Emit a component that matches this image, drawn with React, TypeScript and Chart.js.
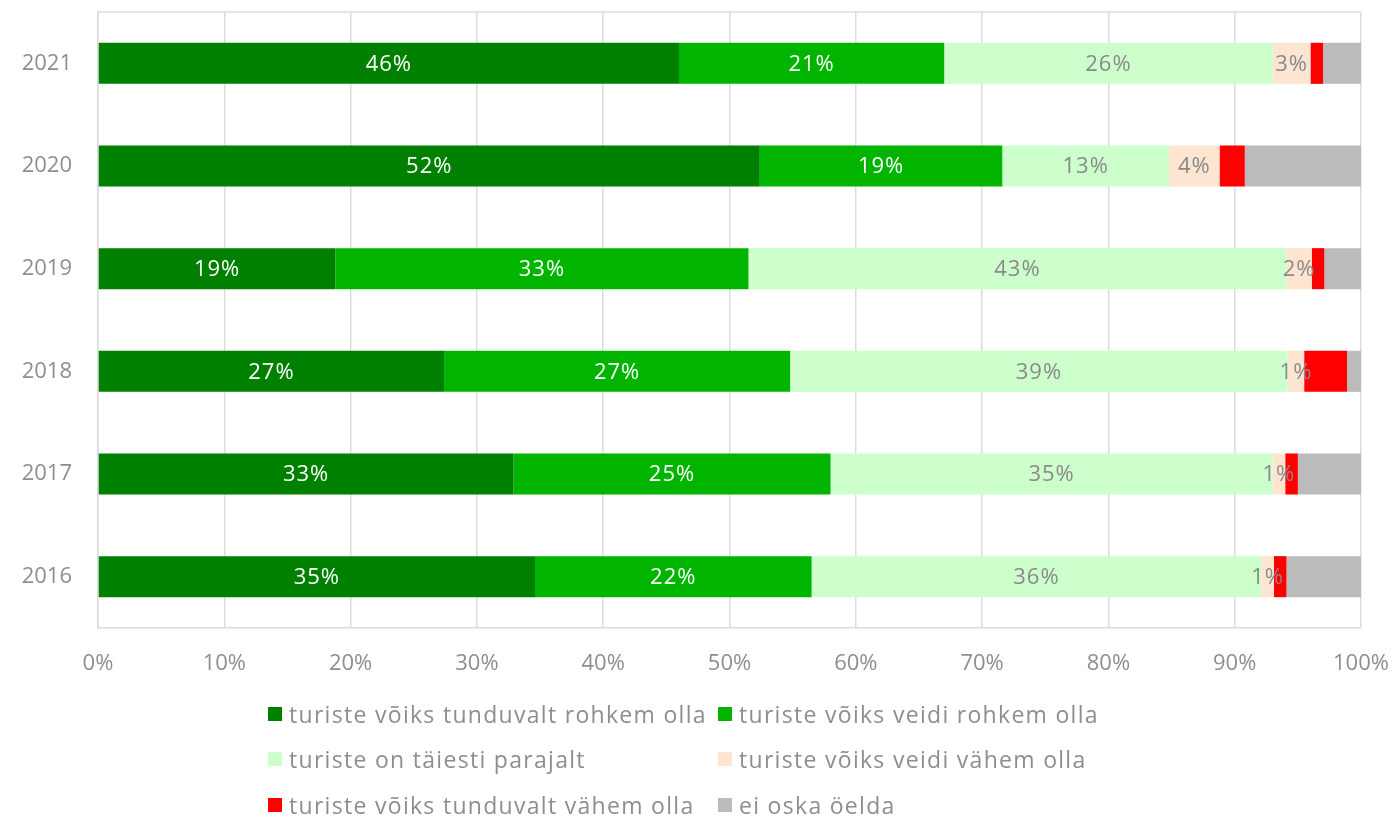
import React, { useEffect, useRef } from "react";
import { Chart, registerables } from "chart.js";

Chart.register(...registerables);

const years = ["2021", "2020", "2019", "2018", "2017", "2016"];
const muchMore = [46.0, 52.4, 18.8, 27.4, 32.9, 34.6];
const slightlyMore = [21.0, 19.2, 32.7, 27.4, 25.1, 21.9];
const justRight = [26.0, 13.2, 42.6, 39.4, 35.0, 35.6];
const slightlyLess = [3.0, 4.0, 2.0, 1.3, 1.0, 1.0];
const muchLess = [1.0, 2.0, 1.0, 3.4, 1.0, 1.0];
const dontKnow = [3.0, 9.2, 2.9, 1.1, 5.0, 5.9];

const seriesNames = [
  "turiste võiks tunduvalt rohkem olla",
  "turiste võiks veidi rohkem olla",
  "turiste on täiesti parajalt",
  "turiste võiks veidi vähem olla",
  "turiste võiks tunduvalt vähem olla",
  "ei oska öelda",
];
const seriesColors = ["#008000", "#00b400", "#ccffcc", "#fde5d2", "#ff0000", "#bbbbbb"];
const labelColors = ["#ffffff", "#ffffff", "#8a8a8a", "#8a8a8a", null, null];
const xTicks = [0, 10, 20, 30, 40, 50, 60, 70, 80, 90, 100];

const FONT = "'Open Sans', 'Noto Sans', sans-serif";
const GRAY = "#8e8e8e";
const GRID = "#dcdcdc";

const labelPlugin = {
  id: "segLabels",
  afterDatasetsDraw(chart: any) {
    const ctx = chart.ctx;
    ctx.save();
    ctx.font = `22px ${FONT}`;
    (ctx as any).letterSpacing = "1px";
    ctx.textAlign = "center";
    ctx.textBaseline = "middle";
    chart.data.datasets.forEach((ds: any, di: number) => {
      const color = labelColors[di];
      if (!color) return;
      const meta = chart.getDatasetMeta(di);
      meta.data.forEach((bar: any, i: number) => {
        const v = ds.data[i];
        const c = bar.getCenterPoint();
        ctx.fillStyle = color;
        ctx.fillText(Math.round(v) + "%", c.x, c.y + 1);
      });
    });
    ctx.restore();
  },
};

const framePlugin = {
  id: "frameTop",
  beforeDatasetsDraw(chart: any) {
    const { ctx, chartArea } = chart;
    ctx.save();
    ctx.strokeStyle = GRID;
    ctx.lineWidth = 1.5;
    ctx.beginPath();
    ctx.moveTo(chartArea.left, chartArea.top);
    ctx.lineTo(chartArea.right, chartArea.top);
    ctx.stroke();
    ctx.restore();
  },
};

export default function App() {
  const ref = useRef<HTMLCanvasElement>(null);
  useEffect(() => {
    document.body.style.margin = "0";
    const datasets = [muchMore, slightlyMore, justRight, slightlyLess, muchLess, dontKnow].map(
      (d, i) => ({
        label: seriesNames[i],
        data: d,
        backgroundColor: seriesColors[i],
        borderWidth: 0,
        barPercentage: 0.4,
        categoryPercentage: 1,
      })
    );
    const chart = new Chart(ref.current!, {
      type: "bar",
      data: { labels: years, datasets },
      plugins: [labelPlugin, framePlugin],
      options: {
        indexAxis: "y",
        responsive: false,
        animation: false,
        layout: { padding: { left: 0, top: 12, right: 36, bottom: 138 } },
        plugins: { legend: { display: false }, tooltip: { enabled: false } },
        scales: {
          x: {
            stacked: true,
            min: 0,
            max: 100,
            afterBuildTicks: (s: any) => {
              s.ticks = xTicks.map((v) => ({ value: v }));
            },
            afterFit: (s: any) => {
              s.height = 50;
              s.paddingLeft = 0;
              s.paddingRight = 0;
            },
            grid: { color: GRID, lineWidth: 1.5, drawTicks: false },
            border: { color: GRID, width: 1.5 },
            ticks: {
              padding: 23,
              color: GRAY,
              font: { family: FONT, size: 22 },
              callback: (v: any) => v + "%",
            },
          },
          y: {
            stacked: true,
            afterFit: (s: any) => {
              s.width = 98;
              s.paddingTop = 0;
              s.paddingBottom = 0;
            },
            grid: { display: false, drawTicks: false },
            border: { color: GRID, width: 1.5 },
            ticks: {
              padding: 26,
              color: GRAY,
              font: { family: FONT, size: 22 },
            },
          },
        },
      },
    } as any);
    return () => chart.destroy();
  }, []);

  const legendPos = [
    [268, 714],
    [718, 714],
    [268, 759],
    [718, 759],
    [268, 805],
    [718, 805],
  ];

  return (
    <div style={{ position: "relative", width: 1397, height: 816, fontFamily: FONT }}>
      <canvas ref={ref} width={1397} height={816} style={{ display: "block" }} />
      {seriesNames.map((name, i) => (
        <div
          key={name}
          style={{
            position: "absolute",
            left: legendPos[i][0],
            top: legendPos[i][1] - 16,
            height: 32,
            display: "flex",
            alignItems: "center",
            whiteSpace: "nowrap",
          }}
        >
          <span
            style={{
              display: "inline-block",
              width: 14,
              height: 14,
              background: seriesColors[i],
              marginRight: 7,
            }}
          />
          <span
            style={{ fontSize: 23, letterSpacing: "1.3px", color: GRAY, lineHeight: "32px" }}
          >
            {name}
          </span>
        </div>
      ))}
    </div>
  );
}
